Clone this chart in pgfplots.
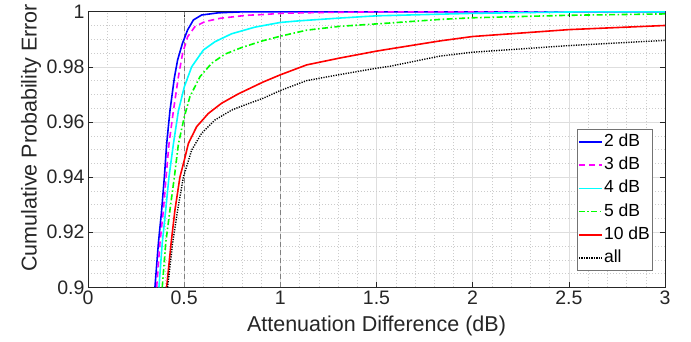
\documentclass[border=0pt]{standalone}
\usepackage{pgfplots}
\pgfplotsset{compat=1.18}
\usepackage{fontspec}
\setmainfont{Liberation Sans}
\definecolor{axc}{RGB}{38,38,38}
\definecolor{cB}{RGB}{0,0,255}
\definecolor{cM}{RGB}{255,0,255}
\definecolor{cC}{RGB}{0,255,255}
\definecolor{cG}{RGB}{0,255,0}
\definecolor{cR}{RGB}{255,0,0}
\tikzset{
  sB/.style={color=cB, line width=1.6pt, solid},
  sM/.style={color=cM, line width=1.6pt, dash pattern=on 6pt off 4pt},
  sC/.style={color=cC, line width=1.6pt, solid},
  sG/.style={color=cG, line width=1.6pt, dash pattern=on 6pt off 2.5pt on 1.5pt off 2.5pt},
  sR/.style={color=cR, line width=1.6pt, solid},
  sK/.style={color=black, line width=1.4pt, dash pattern=on 1.2pt off 1.3pt},
}
\begin{document}
\begin{tikzpicture}
\useasboundingbox (-88pt,-53.7pt) rectangle (603pt,287.3pt);
\begin{axis}[
  at={(0pt,0pt)}, anchor=south west,
  scale only axis, width=577pt, height=275.6pt,
  xmin=0, xmax=3, ymin=0.9, ymax=1,
  enlargelimits=false,
  xtick={0,0.5,1,1.5,2,2.5,3},
  xticklabels={0,0.5,1,1.5,2,2.5,3},
  ytick={0.9,0.92,0.94,0.96,0.98,1},
  yticklabels={0.9,0.92,0.94,0.96,0.98,1},
  minor x tick num=4, minor y tick num=3,
  grid=both,
  major grid style={black!13, line width=0.5pt},
  minor grid style={black!20, line width=0.4pt, dash pattern=on 1pt off 2pt},
  tick align=inside, major tick length=5.5pt, minor tick length=0pt,
  tick style={axc, line width=0.6pt},
  axis line style={axc, line width=0.7pt},
  /pgf/number format/assume math mode=true,
  ticklabel style={font=\fontsize{19.5}{23}\selectfont, text=axc},
  label style={font=\fontsize{21.5}{25}\selectfont, text=axc},
  xlabel={Attenuation Difference (dB)},
  ylabel={Cumulative Probability Error},
  xlabel style={at={(axis description cs:0.5,-0.14)}, anchor=center},
  ylabel style={at={(axis description cs:-0.0988,0.542)}, anchor=center},
  legend style={at={(0.847,0.574)}, anchor=north west,
    font=\fontsize{17.5}{20}\selectfont, draw=black!55, line width=0.6pt,
    inner xsep=1pt, inner ysep=1pt, row sep=0pt,
    nodes={text height=12.6pt, text depth=3.6pt, inner xsep=1.5pt, inner ysep=3.5pt, anchor=west}},
  legend cell align=left,
]
\addplot[black!50, line width=0.6pt, dash pattern=on 5pt off 3pt, forget plot] coordinates {(0.5,0.9) (0.5,1)};
\addplot[black!50, line width=0.6pt, dash pattern=on 5pt off 3pt, forget plot] coordinates {(1,0.9) (1,1)};
% 2 dB
\addplot[sB, legend image code/.code={\draw[sB] (0pt,0pt) -- (23pt,0pt);}] coordinates {
(0.348,0.900) (0.366,0.916) (0.383,0.928) (0.397,0.940) (0.409,0.952) (0.426,0.964)
(0.449,0.976) (0.466,0.9825) (0.491,0.9885) (0.518,0.9934) (0.548,0.9970) (0.591,0.9988)
(0.678,0.9996) (0.82,1.0) (3.0,1.0)};
\addlegendentry{2 dB}
% 3 dB
\addplot[sM, legend image code/.code={\draw[sM] (0pt,0pt) -- (23pt,0pt);}] coordinates {
(0.357,0.900) (0.374,0.916) (0.392,0.928) (0.406,0.940) (0.421,0.952) (0.444,0.964)
(0.470,0.9764) (0.492,0.9849) (0.518,0.9909) (0.556,0.9946) (0.608,0.9964) (0.686,0.9976)
(0.825,0.9987) (0.92,0.9990) (1.0,0.9994) (1.2,0.9997) (1.55,1.0) (3.0,1.0)};
\addlegendentry{3 dB}
% 4 dB
\addplot[sC, legend image code/.code={\draw[sC] (0pt,0pt) -- (23pt,0pt);}] coordinates {
(0.369,0.900) (0.386,0.916) (0.404,0.928) (0.421,0.940) (0.444,0.952) (0.470,0.964)
(0.501,0.9728) (0.539,0.9800) (0.600,0.9861) (0.660,0.9891) (0.747,0.9920) (0.868,0.9944)
(1.0,0.9961) (1.10,0.9967) (1.31,0.9977) (1.5,0.9985) (1.83,0.9991) (2.0,0.9994)
(2.5,0.9999) (2.7,1.0) (3.0,1.0)};
\addlegendentry{4 dB}
% 5 dB
\addplot[sG, legend image code/.code={\draw[color=cG, line width=1.6pt, solid] (0pt,0pt) -- (6pt,0pt) (8.5pt,0pt) -- (10pt,0pt) (12.5pt,0pt) -- (18.5pt,0pt) (21pt,0pt) -- (22.5pt,0pt);}] coordinates {
(0.386,0.900) (0.404,0.916) (0.426,0.928) (0.449,0.940) (0.470,0.952) (0.501,0.9619)
(0.530,0.9692) (0.582,0.9764) (0.643,0.9813) (0.712,0.9846) (0.799,0.9870) (0.911,0.9895)
(1.0,0.9911) (1.137,0.9933) (1.31,0.9947) (1.57,0.9959) (1.83,0.9972) (2.0,0.9978)
(2.5,0.9987) (3.0,0.9992)};
\addlegendentry{5 dB}
% 10 dB
\addplot[sR, legend image code/.code={\draw[sR] (0pt,0pt) -- (23pt,0pt);}] coordinates {
(0.409,0.900) (0.432,0.916) (0.452,0.928) (0.478,0.940) (0.501,0.9462) (0.522,0.9522)
(0.565,0.9583) (0.626,0.9631) (0.695,0.9668) (0.782,0.9702) (0.911,0.9745) (1.0,0.9771)
(1.137,0.9807) (1.31,0.9832) (1.5,0.9857) (1.57,0.9865) (1.83,0.9894) (2.0,0.9910)
(2.5,0.9935) (3.0,0.9950)};
\addlegendentry{10 dB}
% all
\addplot[sK, legend image code/.code={\draw[sK] (0pt,0pt) -- (23pt,0pt);}] coordinates {
(0.414,0.900) (0.440,0.916) (0.466,0.928) (0.496,0.940) (0.539,0.9498) (0.591,0.9559)
(0.660,0.9607) (0.747,0.9643) (0.790,0.9655) (0.911,0.9686) (1.0,0.9714) (1.137,0.9750)
(1.31,0.9772) (1.5,0.9795) (1.57,0.9802) (1.83,0.9839) (2.0,0.9853) (2.5,0.9877)
(3.0,0.9896)};
\addlegendentry{all}
\end{axis}
\end{tikzpicture}
\end{document}
